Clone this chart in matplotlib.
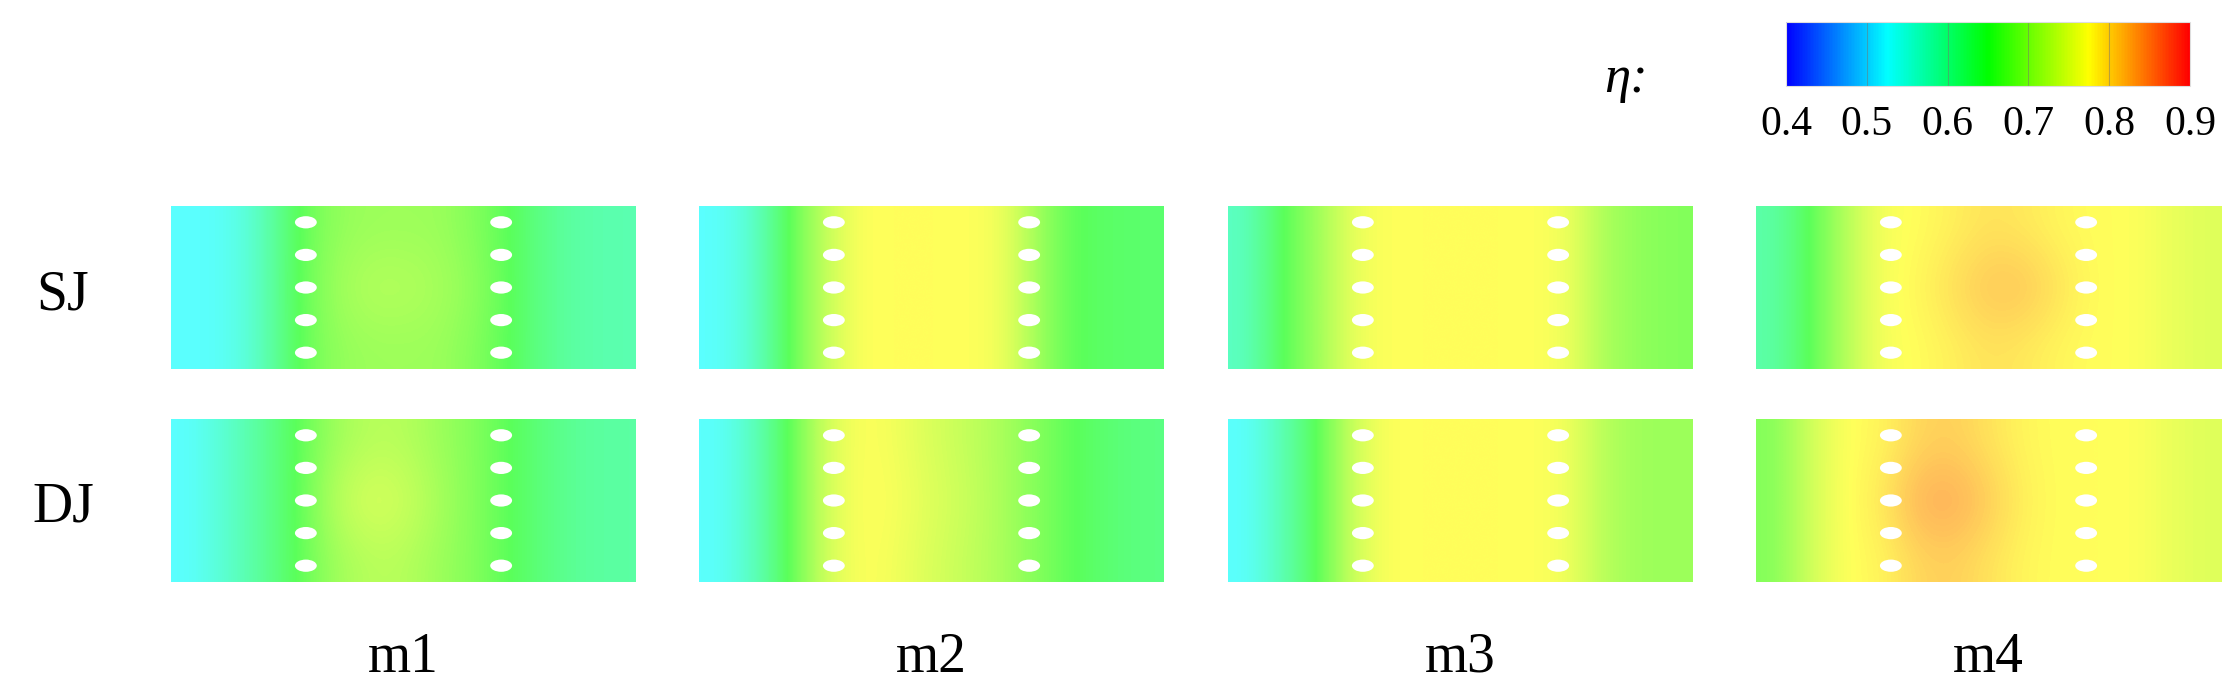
import matplotlib
matplotlib.use("Agg")
import matplotlib.pyplot as plt
from matplotlib.colors import LinearSegmentedColormap, Normalize
from matplotlib.cm import ScalarMappable
from matplotlib.patches import Ellipse
import numpy as np

plt.rcParams['font.family'] = ['Liberation Serif', 'DejaVu Serif']

# column / row names
cases = ['m1', 'm2', 'm3', 'm4']
jets = ['SJ', 'DJ']
cbar_ticks = [0.4, 0.5, 0.6, 0.7, 0.8, 0.9]

# eta: rows = top / middle / bottom, 13 samples left -> right
sj_m1 = [[0.525, 0.53, 0.57, 0.65, 0.69, 0.70, 0.70, 0.70, 0.68, 0.65, 0.61, 0.59, 0.585],
         [0.525, 0.53, 0.57, 0.65, 0.70, 0.72, 0.72, 0.71, 0.69, 0.65, 0.61, 0.59, 0.585],
         [0.525, 0.53, 0.57, 0.65, 0.69, 0.70, 0.70, 0.70, 0.68, 0.65, 0.61, 0.59, 0.585]]
sj_m2 = [[0.525, 0.56, 0.65, 0.73, 0.775, 0.775, 0.775, 0.775, 0.765, 0.70, 0.65, 0.64, 0.635],
         [0.525, 0.56, 0.65, 0.73, 0.775, 0.775, 0.775, 0.775, 0.765, 0.70, 0.65, 0.64, 0.635],
         [0.525, 0.56, 0.65, 0.73, 0.775, 0.775, 0.775, 0.775, 0.765, 0.70, 0.65, 0.64, 0.635]]
sj_m3 = [[0.57, 0.65, 0.70, 0.76, 0.775, 0.775, 0.775, 0.775, 0.775, 0.765, 0.71, 0.69, 0.68],
         [0.57, 0.65, 0.70, 0.76, 0.775, 0.775, 0.775, 0.775, 0.775, 0.765, 0.71, 0.69, 0.68],
         [0.57, 0.65, 0.70, 0.76, 0.775, 0.775, 0.775, 0.775, 0.775, 0.765, 0.71, 0.69, 0.68]]
sj_m4 = [[0.59, 0.65, 0.72, 0.77, 0.775, 0.785, 0.795, 0.79, 0.78, 0.775, 0.775, 0.76, 0.75],
         [0.59, 0.65, 0.72, 0.77, 0.78, 0.80, 0.82, 0.82, 0.795, 0.775, 0.775, 0.76, 0.75],
         [0.59, 0.65, 0.72, 0.77, 0.775, 0.785, 0.795, 0.79, 0.78, 0.775, 0.775, 0.76, 0.75]]
dj_m1 = [[0.525, 0.56, 0.60, 0.65, 0.70, 0.72, 0.72, 0.70, 0.68, 0.65, 0.62, 0.60, 0.595],
         [0.525, 0.56, 0.60, 0.65, 0.72, 0.75, 0.74, 0.71, 0.68, 0.65, 0.62, 0.60, 0.595],
         [0.525, 0.56, 0.60, 0.65, 0.70, 0.72, 0.72, 0.70, 0.68, 0.65, 0.62, 0.60, 0.595]]
dj_m2 = [[0.525, 0.57, 0.65, 0.74, 0.775, 0.765, 0.745, 0.73, 0.71, 0.68, 0.65, 0.63, 0.62],
         [0.525, 0.57, 0.65, 0.74, 0.775, 0.77, 0.75, 0.735, 0.71, 0.68, 0.65, 0.63, 0.62],
         [0.525, 0.57, 0.65, 0.74, 0.775, 0.765, 0.745, 0.73, 0.71, 0.68, 0.65, 0.63, 0.62]]
dj_m3 = [[0.525, 0.58, 0.65, 0.74, 0.775, 0.775, 0.775, 0.775, 0.775, 0.765, 0.72, 0.70, 0.70],
         [0.525, 0.58, 0.65, 0.74, 0.775, 0.775, 0.775, 0.775, 0.775, 0.765, 0.72, 0.70, 0.70],
         [0.525, 0.58, 0.65, 0.74, 0.775, 0.775, 0.775, 0.775, 0.775, 0.765, 0.72, 0.70, 0.70]]
dj_m4 = [[0.68, 0.74, 0.775, 0.78, 0.805, 0.81, 0.795, 0.78, 0.775, 0.775, 0.775, 0.76, 0.75],
         [0.68, 0.74, 0.775, 0.79, 0.835, 0.84, 0.815, 0.785, 0.775, 0.775, 0.775, 0.76, 0.75],
         [0.68, 0.74, 0.775, 0.78, 0.805, 0.81, 0.795, 0.78, 0.775, 0.775, 0.775, 0.76, 0.75]]

fields = [[sj_m1, sj_m2, sj_m3, sj_m4],
          [dj_m1, dj_m2, dj_m3, dj_m4]]

# film-cooling hole rows (fraction of plate width / height)
hole_x = [0.29, 0.71]
hole_y = [0.1, 0.3, 0.5, 0.7, 0.9]

cmap = LinearSegmentedColormap.from_list(
    'eta', [(0, '#0000ff'), (0.25, '#00ffff'), (0.5, '#00ff00'),
            (0.75, '#ffff00'), (1, '#ff0000')])
norm = Normalize(0.4, 0.9)

W, H = 2233, 700
fig = plt.figure(figsize=(W / 100, H / 100), dpi=100)

col_left = [171, 699, 1228, 1756]
row_top = [206, 419]
pw, ph = 465, 163

for r in range(2):
    for c in range(4):
        ax = fig.add_axes([col_left[c] / W, 1 - (row_top[r] + ph) / H, pw / W, ph / H])
        ax.imshow(np.array(fields[r][c]), cmap=cmap, norm=norm, alpha=0.65,
                  extent=(0, 1, 0, 1), aspect='auto', interpolation='bicubic')
        for hx in hole_x:
            for hy in hole_y:
                ax.add_patch(Ellipse((hx, hy), 0.047, 0.075, color='white', lw=0))
        ax.set_xlim(0, 1)
        ax.set_ylim(0, 1)
        ax.axis('off')

# row labels (baselines)
row_base = [309, 521]
for r, name in enumerate(jets):
    fig.text(63 / W, 1 - row_base[r] / H, name, fontsize=40,
             ha='center', va='baseline')
for c, name in enumerate(cases):
    fig.text((col_left[c] + pw / 2) / W, 1 - 672 / H, name, fontsize=40,
             ha='center', va='baseline')

# colour bar
cax = fig.add_axes([1786 / W, 1 - 86 / H, 404 / W, 64 / H])
cb = fig.colorbar(ScalarMappable(norm=norm, cmap=cmap), cax=cax,
                  orientation='horizontal', ticks=cbar_ticks)
cb.outline.set_edgecolor('#dddddd')
cb.outline.set_linewidth(0.8)
cax.tick_params(length=0, labelsize=30, pad=14)
cax.set_xticklabels([f'{t:.1f}' for t in cbar_ticks])
for v in cbar_ticks[1:-1]:
    cax.axvline(v, color='0.45', lw=0.8, alpha=0.5)
fig.text(1626 / W, 1 - 92 / H, 'η:', fontsize=38, style='italic',
         ha='center', va='baseline')

fig.savefig('out.png', dpi=100, facecolor='white')
plt.close(fig)
